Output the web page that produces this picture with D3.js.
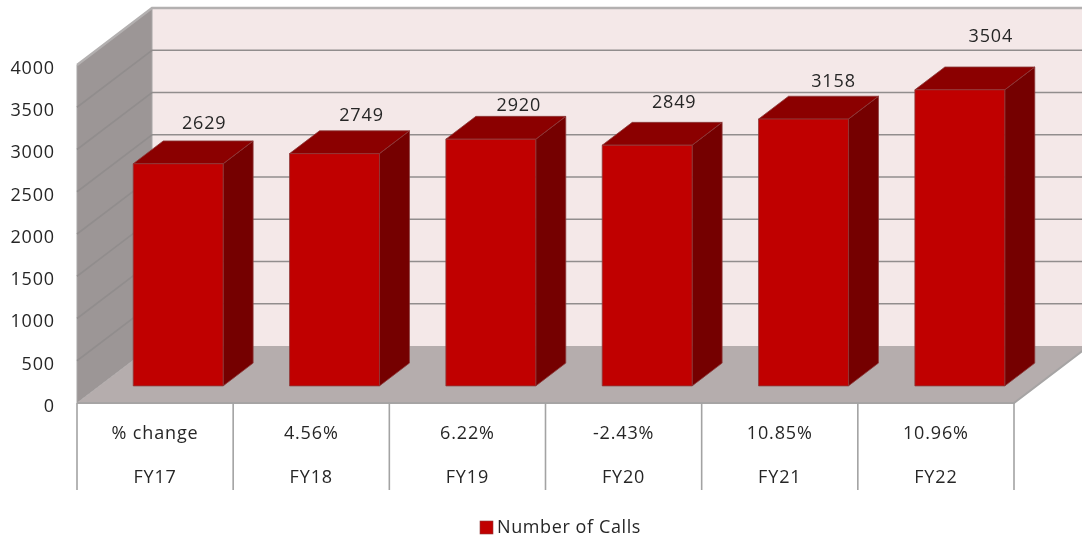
<!DOCTYPE html>
<html><head><meta charset="utf-8">
<script src="https://cdnjs.cloudflare.com/ajax/libs/d3/7.8.5/d3.min.js"></script>
<style>html,body{margin:0;padding:0;background:#fff}svg{display:block;filter:blur(0.45px)}text{font-family:"Open Sans",sans-serif;fill:#262626}</style>
</head><body><svg id="c" width="1082" height="540"></svg>
<script>
const categories = ["FY17","FY18","FY19","FY20","FY21","FY22"];
const changes = ["% change","4.56%","6.22%","-2.43%","10.85%","10.96%"];
const calls = [2629,2749,2920,2849,3158,3504];
const yTicks = [0,500,1000,1500,2000,2500,3000,3500,4000];
const seriesName = "Number of Calls";
// hand-placed label offsets relative to the bar's front top edge centre (px)
const labelLift = [41,39,34,43,38,54];
const labelShift = [26,27,28,27,30,31];

const svg = d3.select("#c");
const y = d3.scaleLinear().domain([0,4000]).range([403,65]);
const x = d3.scaleBand().domain(categories).range([77.5,1015.5]).paddingInner(0.425).paddingOuter(0.2125);
const depthX = 75, depthY = 57;
const P = (px,v,z) => [px + depthX*z, y(v) - depthY*z];
const poly = pts => "M" + pts.map(p=>p.join(",")).join("L") + "Z";
const xMin = 77, xMax = 1014, yMax = 4000;
const fontSize = 18, spacing = 0.85;

// walls
svg.append("path").attr("d",poly([P(xMin,0,1),P(xMax,0,1),P(xMax,yMax,1),P(xMin,yMax,1)])).attr("fill","#f4e8e8");
svg.append("path").attr("d",poly([P(xMin,0,0),P(xMin,0,1),P(xMin,yMax,1),P(xMin,yMax,0)])).attr("fill","#9c9696").attr("stroke","#a8a6a6");
svg.append("path").attr("d",poly([P(xMin,0,0),P(xMin,0,1),P(xMax,0,1),P(xMax,0,0)])).attr("fill","#b5adad");

// gridlines
yTicks.forEach(t=>{
  if(t>0){
    svg.append("path").attr("d",d3.line()([P(xMin,t,0),P(xMin,t,1),P(xMax,t,1)])).attr("fill","none")
      .attr("stroke",t===yMax?"#b3b0b0":"#918d8d").attr("stroke-width",t===yMax?2.4:1.6);
  }
});
svg.append("path").attr("d",d3.line()([P(xMin,0,0),P(xMax,0,0),P(xMax,0,1)])).attr("fill","none").attr("stroke","#a6a4a4").attr("stroke-width",2);

// bars
const z0 = 0.3, z1 = 0.7;
const bars = svg.selectAll("g.bar").data(categories.map((c,i)=>({c,v:calls[i],lift:labelLift[i],shift:labelShift[i]}))).join("g").attr("class","bar");
const edge = "#8c3a3a";
bars.append("path").attr("d",d=>{const a=x(d.c),b=a+x.bandwidth();return poly([P(b,0,z0),P(b,0,z1),P(b,d.v,z1),P(b,d.v,z0)]);}).attr("fill","#750000").attr("stroke",edge).attr("stroke-width",0.8);
bars.append("path").attr("d",d=>{const a=x(d.c),b=a+x.bandwidth();return poly([P(a,d.v,z0),P(a,d.v,z1),P(b,d.v,z1),P(b,d.v,z0)]);}).attr("fill","#8b0000").attr("stroke",edge).attr("stroke-width",0.8);
bars.append("path").attr("d",d=>{const a=x(d.c),b=a+x.bandwidth();return poly([P(a,0,z0),P(b,0,z0),P(b,d.v,z0),P(a,d.v,z0)]);}).attr("fill","#c00000").attr("stroke",edge).attr("stroke-width",0.8);
bars.append("text").text(d=>d.v).attr("text-anchor","middle").attr("font-size",fontSize).attr("letter-spacing",spacing)
  .attr("x",d=>P(x(d.c)+x.bandwidth()/2,d.v,z0)[0]+d.shift)
  .attr("y",d=>P(0,d.v,z0)[1]-d.lift).attr("dy","0.35em");

// y axis
const ax = svg.append("g").attr("transform","translate(55,2.5)").call(d3.axisLeft(y).tickValues(yTicks).tickSize(0).tickPadding(0).tickFormat(d3.format("d")));
ax.select(".domain").remove();
ax.selectAll("text").attr("font-size",fontSize).attr("letter-spacing",spacing).style("font-family",'"Open Sans",sans-serif');

// table under axis
const step = (xMax-xMin)/categories.length;
const edges = d3.range(categories.length+1).map(i=>xMin+i*step);
svg.selectAll("line.tick-v").data(edges).join("line").attr("class","tick-v")
  .attr("x1",d=>d).attr("x2",d=>d).attr("y1",y(0)).attr("y2",490).attr("stroke","#a3a3a3").attr("stroke-width",1.6);
const mid = (d,i) => xMin+(i+0.5)*step;
svg.selectAll("text.chg").data(categories).join("text").attr("class","chg")
  .attr("x",mid).attr("y",433).attr("dy","0.35em").attr("text-anchor","middle").attr("font-size",fontSize).attr("letter-spacing",spacing)
  .text((d,i)=>changes[i]);
svg.selectAll("text.cat").data(categories).join("text").attr("class","cat")
  .attr("x",mid).attr("y",477).attr("dy","0.35em").attr("text-anchor","middle").attr("font-size",fontSize).attr("letter-spacing",spacing)
  .text(d=>d);

// legend
svg.append("rect").attr("x",480).attr("y",521).attr("width",13).attr("height",13).attr("fill","#c00000").attr("stroke","#8c3a3a").attr("stroke-width",0.6);
svg.append("text").attr("x",497).attr("y",527).attr("dy","0.35em").attr("font-size",fontSize).attr("letter-spacing",0.6).text(seriesName);
</script></body></html>
